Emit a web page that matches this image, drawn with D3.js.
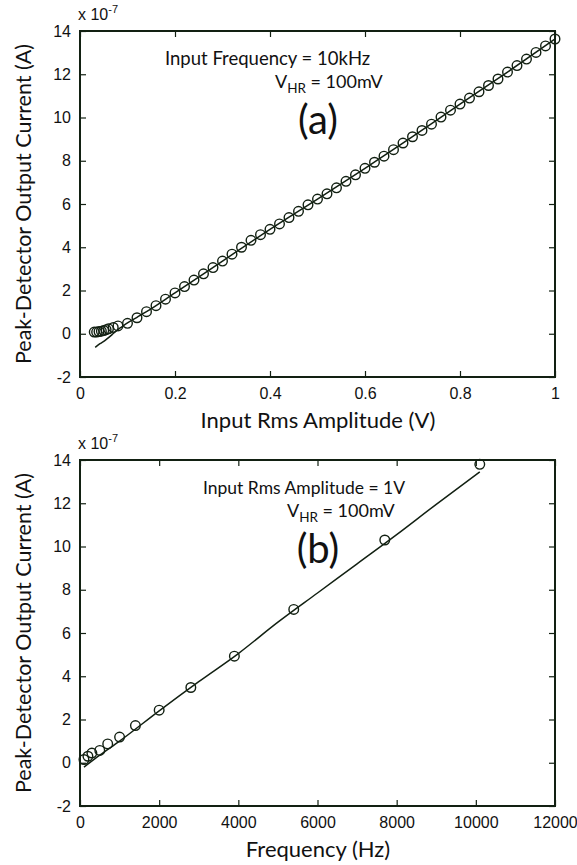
<!DOCTYPE html>
<html><head><meta charset="utf-8">
<script src="https://cdn.jsdelivr.net/npm/d3@7"></script>
<style>
body{margin:0;background:#fff;}
svg text{fill:#111;}
</style></head>
<body>
<svg id="c" width="577" height="865"></svg>
<script>
// ---- Panel (a) data ----
const aAmp = [0.03,0.035,0.04,0.045,0.05,0.055,0.06,0.07,0.08,
  0.10,0.12,0.14,0.16,0.18,0.20,0.22,0.24,0.26,0.28,0.30,0.32,0.34,0.36,0.38,0.40,
  0.42,0.44,0.46,0.48,0.50,0.52,0.54,0.56,0.58,0.60,0.62,0.64,0.66,0.68,0.70,
  0.72,0.74,0.76,0.78,0.80,0.82,0.84,0.86,0.88,0.90,0.92,0.94,0.96,0.98,1.00];
const aCur = [0.08,0.08,0.1,0.12,0.15,0.19,0.23,0.29,0.36,
  0.48,0.74,1.02,1.30,1.60,1.89,2.18,2.48,2.77,3.06,3.36,3.68,4.00,4.32,4.58,4.83,
  5.08,5.37,5.66,5.96,6.23,6.47,6.75,7.05,7.35,7.65,7.93,8.21,8.51,8.82,9.11,
  9.40,9.69,10.02,10.34,10.62,10.90,11.19,11.48,11.78,12.10,12.40,12.70,13.01,13.31,13.63];
const aFitAmp = [0.032,0.042,0.05,0.056,0.067,0.077,0.088,0.10,0.12,0.14,0.20,0.30,0.40,0.50,0.60,0.70,0.80,0.90,1.00];
const aFitCur = [-0.63,-0.46,-0.35,-0.25,-0.05,0.15,0.32,0.50,0.76,1.02,1.89,3.36,4.83,6.23,7.65,9.11,10.62,12.10,13.63];
const aXTicks = [0,0.2,0.4,0.6,0.8,1];
const aXLabels = ["0","0.2","0.4","0.6","0.8","1"];
// ---- Panel (b) data ----
const bFreq = [100,200,300,500,700,1000,1400,2000,2800,3900,5400,7700,10100];
const bCur = [0.15,0.30,0.45,0.57,0.87,1.19,1.72,2.43,3.48,4.93,7.09,10.30,13.80];
const bFitFreq = [100,500,1000,2000,3000,4000,5000,6000,7000,8000,9000,10100];
const bFitCur = [-0.2,0.35,1.0,2.4,3.75,5.05,6.5,7.85,9.2,10.55,11.95,13.45];
const bXTicks = [0,2000,4000,6000,8000,10000,12000];
const bXLabels = ["0","2000","4000","6000","8000","10000","12000"];
// shared
const yTicks = [-2,0,2,4,6,8,10,12,14];
const yLabels = ["-2","0","2","4","6","8","10","12","14"];

const INK = "#122012";
const svg = d3.select("#c");
const tickFont = "Liberation Sans, Arial, sans-serif";
const labFont = "Lato, 'Open Sans', sans-serif";
const L = 80, R = 555;

function panel(o){
  const g = svg.append("g");
  const x = d3.scaleLinear().domain(o.xdom).range([L,R]);
  const y = d3.scaleLinear().domain([-2,14]).range([o.bottom,o.top]);
  const tl = 6;
  const styleTicks = a=>{a.select(".domain").remove();a.selectAll("line").attr("stroke",INK).attr("stroke-width",1.2);
      a.selectAll("text").attr("font-family",tickFont).attr("font-size",16).attr("fill","#111");};
  g.append("g").attr("transform",`translate(0,${o.bottom})`)
    .call(d3.axisBottom(x).tickValues(o.xt).tickSize(-tl).tickFormat((d,i)=>o.xl[i]).tickPadding(11))
    .call(styleTicks);
  g.append("g").attr("transform",`translate(0,${o.top})`)
    .call(d3.axisTop(x).tickValues(o.xt).tickSize(-tl).tickFormat(""))
    .call(styleTicks);
  g.append("g").attr("transform",`translate(${L},0)`)
    .call(d3.axisLeft(y).tickValues(yTicks).tickSize(-tl).tickFormat((d,i)=>yLabels[i]).tickPadding(9))
    .call(styleTicks);
  g.append("g").attr("transform",`translate(${R},0)`)
    .call(d3.axisRight(y).tickValues(yTicks).tickSize(-tl).tickFormat(""))
    .call(styleTicks);
  g.append("rect").attr("x",L).attr("y",o.top).attr("width",R-L).attr("height",o.bottom-o.top)
    .attr("fill","none").attr("stroke",INK).attr("stroke-width",2);
  const line = d3.line().x(d=>x(d[0])).y(d=>y(d[1])).curve(d3.curveMonotoneX);
  g.append("path").datum(d3.zip(o.fx,o.fy)).attr("d",line).attr("fill","none")
    .attr("stroke",INK).attr("stroke-width",1.5);
  g.selectAll("circle.m").data(d3.zip(o.px,o.py)).join("circle").attr("class","m")
    .attr("cx",d=>x(d[0])).attr("cy",d=>y(d[1])).attr("r",4.8)
    .attr("fill","none").attr("stroke",INK).attr("stroke-width",1.4);
  const ex = g.append("text").attr("x",78).attr("y",o.top-11).attr("font-family",tickFont).attr("font-size",16);
  ex.append("tspan").text("x 10");
  ex.append("tspan").attr("dy",-7).attr("font-size",11).text("-7");
  g.append("text").attr("x",318).attr("y",o.bottom+51).attr("text-anchor","middle")
    .attr("font-family",labFont).attr("font-size",22).text(o.xlabel);
  g.append("text").attr("transform",`translate(31,${(o.top+o.bottom)/2}) rotate(-90)`).attr("text-anchor","middle")
    .attr("font-family",labFont).attr("font-size",21.5).text("Peak-Detector Output Current (A)");
  g.append("text").attr("x",o.a1x).attr("y",o.top+34).attr("font-family",labFont).attr("font-size",o.a1s).text(o.a1);
  const v = g.append("text").attr("x",o.a2x).attr("y",o.top+57).attr("font-family",labFont).attr("font-size",18);
  v.append("tspan").text("V");
  v.append("tspan").attr("dy",5).attr("font-size",13.5).text("HR");
  v.append("tspan").attr("dy",-5).text(" = 100mV");
  g.append("text").attr("x",318).attr("y",o.top+103).attr("text-anchor","middle")
    .attr("font-family",labFont).attr("font-size",40).text(o.tag);
}

panel({top:31,bottom:377,xdom:[0,1],xt:aXTicks,xl:aXLabels,px:aAmp,py:aCur,fx:aFitAmp,fy:aFitCur,
  xlabel:"Input Rms Amplitude (V)",a1:"Input Frequency = 10kHz",a1x:165,a1s:18.5,a2x:275,tag:"(a)"});
panel({top:460,bottom:806,xdom:[0,12000],xt:bXTicks,xl:bXLabels,px:bFreq,py:bCur,fx:bFitFreq,fy:bFitCur,
  xlabel:"Frequency (Hz)",a1:"Input Rms Amplitude = 1V",a1x:203,a1s:17.5,a2x:287,tag:"(b)"});
</script>
</body></html>
